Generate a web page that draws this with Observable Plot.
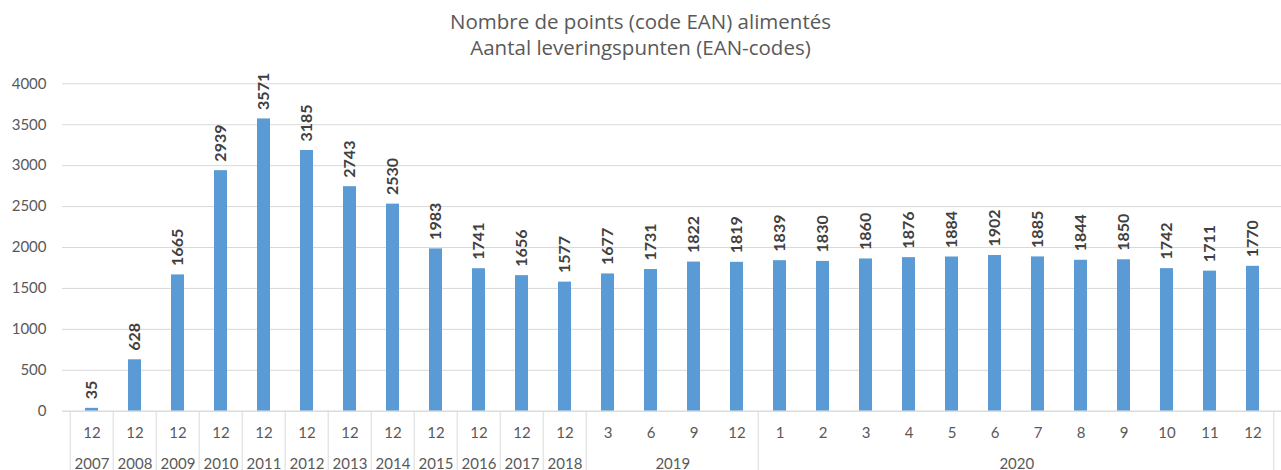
<!DOCTYPE html>
<html>
<head>
<meta charset="utf-8">
<script src="https://cdn.jsdelivr.net/npm/d3@7"></script>
<script src="https://cdn.jsdelivr.net/npm/@observablehq/plot@0.6"></script>
<style>
  html, body { margin: 0; padding: 0; background: #fff; overflow: hidden; }
  #title { height: 62px; box-sizing: border-box; padding-top: 8px; text-align: center;
           font-family: "Open Sans", Lato, sans-serif; font-size: 20.5px; line-height: 26px; color: #595959; }
  #chart svg { display: block; }
</style>
</head>
<body>
<div id="title">Nombre de points (code EAN) alimentés<br>Aantal leveringspunten (EAN-codes)</div>
<div id="chart"></div>
<script>
// ---- data ----
const months = ["12","12","12","12","12","12","12","12","12","12","12","12",
                "3","6","9","12",
                "1","2","3","4","5","6","7","8","9","10","11","12"];
const years = [2007,2008,2009,2010,2011,2012,2013,2014,2015,2016,2017,2018,
               2019,2019,2019,2019,
               2020,2020,2020,2020,2020,2020,2020,2020,2020,2020,2020,2020];
const values = [35,628,1665,2939,3571,3185,2743,2530,1983,1741,1656,1577,
                1677,1731,1822,1819,
                1839,1830,1860,1876,1884,1902,1885,1844,1850,1742,1711,1770];
const yTicks = [0,500,1000,1500,2000,2500,3000,3500,4000];

// ---- table ----
const rows = values.map((v, i) => ({key: `${years[i]}-${months[i]}-${i}`, month: months[i], year: years[i], value: v}));
const keys = rows.map(d => d.key);

// year groups: first key, key at which the label sits, and whether the label needs a half-step shift
const groups = d3.groups(rows, d => d.year).map(([year, rs]) => {
  const n = rs.length;
  const mid = rs[Math.floor((n - 1) / 2)];
  return {year, first: rs[0].key, mid: mid.key, even: n % 2 === 0};
});
const oddGroups = groups.filter(d => !d.even);
const evenGroups = groups.filter(d => d.even);

// ---- layout ----
const W = 1281, H = 408, ML = 62, MR = -2, MT = 21.3, MB = 59.3;
const step = (W - ML - MR) / keys.length;
const frameH = H - MT - MB;
const gray = "#595959";
const font = "Lato, 'Open Sans', sans-serif";

const plot = Plot.plot({
  width: W, height: H,
  marginLeft: ML, marginRight: MR, marginTop: MT, marginBottom: MB,
  style: {fontFamily: font, background: "#fff", overflow: "visible"},
  x: {domain: keys, paddingInner: 0.69, paddingOuter: 0.345, axis: null},
  y: {domain: [0, 4000], axis: null},
  marks: [
    Plot.gridY(yTicks, {stroke: "#d9d9d9", strokeOpacity: 1}),
    Plot.axisY(yTicks, {tickSize: 0, tickPadding: 16, fontSize: 15, fill: gray, label: null, tickFormat: d => String(d)}),
    Plot.barY(rows, {x: "key", y: "value", fill: "#5b9bd5"}),
    Plot.ruleY([0], {stroke: "#d9d9d9"}),
    Plot.text(rows, {x: "key", y: "value", text: d => String(d.value), rotate: -90, textAnchor: "start",
      dy: -9, fontSize: 16, fontWeight: "bold", fill: "#404040"}),
    // month labels
    Plot.text(rows, {x: "key", y: () => 0, text: "month", dy: 21.5, lineAnchor: "middle", fontSize: 15, fill: gray}),
    // year labels
    Plot.text(oddGroups, {x: "mid", y: () => 0, text: d => String(d.year), dy: 52.5,
      lineAnchor: "middle", fontSize: 15, fill: gray}),
    Plot.text(evenGroups, {x: "mid", y: () => 0, text: d => String(d.year), dx: step / 2, dy: 52.5,
      lineAnchor: "middle", fontSize: 15, fill: gray}),
    // separators
    Plot.ruleX(groups, {x: "first", dx: -step / 2, stroke: "#d9d9d9", insetTop: frameH, insetBottom: -MB}),
    Plot.ruleX([keys[keys.length - 1]], {dx: step / 2 - 1, stroke: "#d9d9d9", insetTop: frameH, insetBottom: -MB})
  ]
});
document.getElementById("chart").appendChild(plot);
</script>
</body>
</html>
